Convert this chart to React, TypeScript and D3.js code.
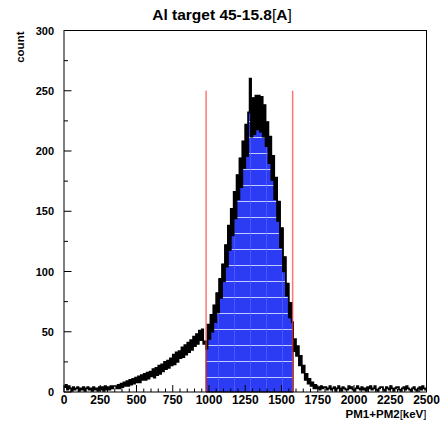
import React from 'react';
import * as d3 from 'd3';

const BIN_WIDTH = 10; // keV
const X_MIN = 0;
const X_MAX = 2500;
const Y_MAX = 300;

const counts: number[] = [
  // 0 - 350 keV
  4, 6, 2, 5, 3, 1, 4, 2, 3, 4, 1, 3, 2, 4, 1, 3, 4, 2, 3, 1, 4, 2, 3, 1, 4,
  2, 4, 1, 5, 2, 4, 2, 5, 3, 5,
  // 350 - 950 keV
  5, 3, 6, 3, 7,
  4, 8, 5, 9, 5,
  10, 6, 11, 7, 12,
  8, 13, 8, 14, 10,
  15, 10, 16, 11, 17,
  13, 19, 12, 20, 14,
  22, 15, 23, 17, 25,
  19, 26, 20, 28, 22,
  31, 23, 33, 25, 34,
  28, 37, 29, 39, 31,
  41, 33, 43, 35, 46,
  38, 48, 40, 51, 43,
  // 950 - 1600 keV
  52, 40, 42, 36, 56,
  44, 64, 50, 72, 58,
  82, 66, 94, 78, 106,
  92, 122, 104, 138, 118,
  152, 130, 166, 144, 180,
  160, 194, 170, 208, 186,
  222, 196, 232, 260, 212,
  244, 214, 246, 218, 246,
  216, 245, 212, 238, 204,
  224, 190, 212, 176, 196,
  160, 178, 142, 158, 120,
  136, 100, 112, 80, 90,
  62, 74, 58, 34, 44,
  // 1600 - 1800 keV
  30, 38, 22, 30, 16,
  22, 10, 15, 7, 11,
  5, 8, 3, 6, 3,
  4, 2, 5, 3, 4,
  // 1800 - 2500 keV
  4, 2, 3, 5, 2, 3, 4, 1, 3, 5,
  3, 1, 4, 3, 2, 2, 5, 3, 4, 2,
  1, 3, 5, 3, 2, 4, 2, 3, 1, 4,
  3, 5, 2, 3, 5, 2, 1, 3, 4, 4,
  2, 1, 4, 3, 2, 5, 3, 1, 3, 4,
  4, 2, 1, 3, 4, 2, 5, 3, 2, 1,
  3, 4, 2, 1, 3, 4, 2, 5, 3, 2,
];

const xTicks = [0, 250, 500, 750, 1000, 1250, 1500, 1750, 2000, 2250, 2500];
const xMinorStep = 50;
const yTicks = [0, 50, 100, 150, 200, 250, 300];
const yMinorStep = 25;

const cutLow = 980;
const cutHigh = 1577;
const cutLineTop = 250;

const titleMain = 'Al target 45-15.8';
const titleUnit = 'A';
const xTitleMain = 'PM1+PM2';
const xTitleUnit = 'keV';
const yTitle = 'count';

const W = 440;
const H = 428;
const FONT = '"Liberation Sans", Arial, Helvetica, sans-serif';

export default function App() {
  const left = 64, right = 426.5, top = 30.5, bottom = 392;
  const x = d3.scaleLinear().domain([X_MIN, X_MAX]).range([left, right]);
  const y = d3.scaleLinear().domain([0, Y_MAX]).range([bottom, top]);

  const pts: [number, number][] = counts.map((c, i) => [X_MIN + i * BIN_WIDTH, c]);
  pts.push([X_MIN + counts.length * BIN_WIDTH, counts[counts.length - 1]]);

  const line = d3
    .line<[number, number]>()
    .x((d) => x(d[0]))
    .y((d) => y(d[1]))
    .curve(d3.curveStepAfter);

  const fillEnd = Math.ceil(cutHigh / BIN_WIDTH) * BIN_WIDTH;
  const inside = pts.filter((d) => d[0] >= cutLow && d[0] < fillEnd);
  const fillData: [number, number][] = inside.concat([[fillEnd, inside[inside.length - 1][1]]]);
  const area = d3
    .area<[number, number]>()
    .x((d) => x(d[0]))
    .y0(y(0))
    .y1((d) => y(d[1]))
    .curve(d3.curveStepAfter);

  const xMinor = d3.range(X_MIN, X_MAX + 1, xMinorStep).filter((v) => !xTicks.includes(v));
  const yMinor = d3.range(0, Y_MAX + 1, yMinorStep).filter((v) => !yTicks.includes(v));

  return (
    <svg
      width={W}
      height={H}
      style={{ position: 'absolute', left: 0, top: 0, background: '#fff' }}
      fontFamily={FONT}
    >
      <defs>
        <pattern id="fillPat" patternUnits="userSpaceOnUse" x={0} y={9} width={16} height={16}>
          <rect x={0} y={0} width={16} height={16} fill="#2c3cf4" />
          <rect x={0} y={0} width={16} height={1} fill="#c4caff" />
          <rect x={10} y={0} width={1} height={16} fill="#5a68ff" opacity={0.6} />
        </pattern>
      </defs>
      <rect x={0} y={0} width={W} height={H} fill="#fff" />

      {/* filled region */}
      <path d={area(fillData) || ''} fill="url(#fillPat)" stroke="#000" strokeWidth={1} />

      {/* histogram outline */}
      <path d={line(pts) || ''} fill="none" stroke="#000" strokeWidth={1.7} strokeLinejoin="miter" />

      {/* cut lines */}
      {[cutLow, cutHigh].map((c) => (
        <line
          key={c}
          x1={x(c)}
          x2={x(c)}
          y1={y(0)}
          y2={y(cutLineTop)}
          stroke="#ff3c3c"
          strokeOpacity={0.7}
          strokeWidth={1.5}
        />
      ))}

      {/* frame */}
      <rect x={left} y={top} width={right - left} height={bottom - top} fill="none" stroke="#000" strokeWidth={1} />

      {/* x ticks */}
      {xTicks.map((t) => (
        <line key={'xt' + t} x1={x(t)} x2={x(t)} y1={bottom} y2={bottom - 7} stroke="#000" strokeWidth={1} />
      ))}
      {xMinor.map((t) => (
        <line key={'xm' + t} x1={x(t)} x2={x(t)} y1={bottom} y2={bottom - 3.5} stroke="#000" strokeWidth={1} />
      ))}
      {xTicks.map((t) => (
        <text key={'xl' + t} x={x(t)} y={404} textAnchor="middle" fontSize={12} fontWeight="bold">
          {t}
        </text>
      ))}

      {/* y ticks */}
      {yTicks.map((t) => (
        <line key={'yt' + t} x1={left} x2={left + 7.5} y1={y(t)} y2={y(t)} stroke="#000" strokeWidth={1} />
      ))}
      {yMinor.map((t) => (
        <line key={'ym' + t} x1={left} x2={left + 4} y1={y(t)} y2={y(t)} stroke="#000" strokeWidth={1} />
      ))}
      {yTicks.map((t) => (
        <text key={'yl' + t} x={54} y={y(t) + 4.2} textAnchor="end" fontSize={11} fontWeight="bold">
          {t}
        </text>
      ))}

      {/* titles */}
      <text x={222} y={19.5} textAnchor="middle" fontSize={15.5} fontWeight="bold">
        {titleMain}
        <tspan fontWeight="normal">[</tspan>
        <tspan>{titleUnit}</tspan>
        <tspan fontWeight="normal">]</tspan>
      </text>
      <text x={right} y={417.5} textAnchor="end" fontSize={11.5} fontWeight="bold">
        {xTitleMain}
        <tspan fontWeight="normal">[</tspan>
        <tspan>{xTitleUnit}</tspan>
        <tspan fontWeight="normal">]</tspan>
      </text>
      <text
        transform={`translate(24, 31.5) rotate(-90)`}
        textAnchor="end"
        fontSize={11.5}
        fontWeight="bold"
      >
        {yTitle}
      </text>
    </svg>
  );
}
